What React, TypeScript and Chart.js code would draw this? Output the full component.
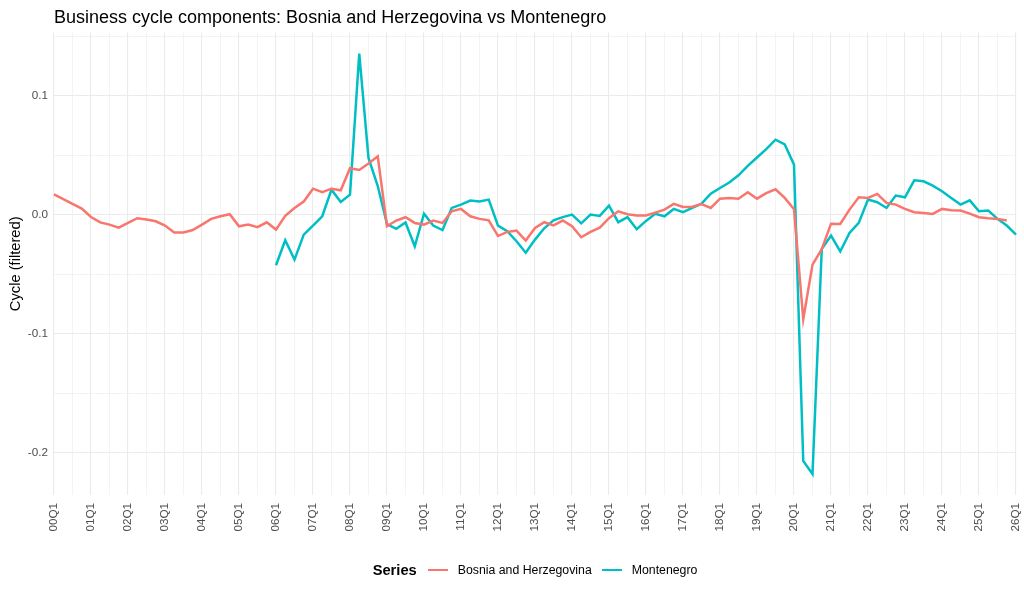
import React, { useEffect, useRef } from 'react';
import { Chart, registerables } from 'chart.js';

Chart.register(...registerables);

const FONT = '"Liberation Sans", Arial, Helvetica, sans-serif';

const TITLE = 'Business cycle components: Bosnia and Herzegovina vs Montenegro';
const Y_TITLE = 'Cycle (filtered)';
const LEGEND_TITLE = 'Series';

const YEARS = ['00', '01', '02', '03', '04', '05', '06', '07', '08', '09', '10', '11', '12', '13', '14', '15', '16', '17', '18', '19', '20', '21', '22', '23', '24', '25'];
const QUARTERS = ['Q1', 'Q2', 'Q3', 'Q4'];
const LAST_LABEL = '26Q1';

const categories: string[] = [];
YEARS.forEach((y) => QUARTERS.forEach((q) => categories.push(y + q)));
categories.push(LAST_LABEL);

const Y_TICKS = [-0.2, -0.15, -0.1, -0.05, 0, 0.05, 0.1, 0.15];
const Y_MIN = -0.2357;
const Y_MAX = 0.153;

const SERIES_NAMES = ['Bosnia and Herzegovina', 'Montenegro'];
const SERIES_COLORS = ['#F8766D', '#00BFC4'];

const bosnia: (number | null)[] = [
  0.017, 0.013, 0.009, 0.005, -0.002, -0.0065, -0.0084, -0.011, -0.007, -0.003,
  -0.0042, -0.0056, -0.0092, -0.015, -0.015, -0.013, -0.0084, -0.0036, -0.0014, 0.0003,
  -0.0098, -0.0084, -0.0106, -0.0065, -0.0126, -0.001, 0.0056, 0.011, 0.0218, 0.0188,
  0.0218, 0.0204, 0.039, 0.0375, 0.043, 0.049, -0.0098, -0.005, -0.0022, -0.007,
  -0.0084, -0.005, -0.007, 0.0028, 0.0048, -0.0014, -0.0036, -0.0048, -0.018, -0.0146,
  -0.0134, -0.0218, -0.0112, -0.0064, -0.009, -0.005, -0.0098, -0.019, -0.0145, -0.011,
  -0.003, 0.0028, 0.0003, -0.0008, -0.0008, 0.0017, 0.0042, 0.009, 0.0064, 0.0067,
  0.0088, 0.0056, 0.0134, 0.014, 0.0134, 0.0188, 0.0134, 0.018, 0.0213, 0.014,
  0.0045, -0.088, -0.042, -0.029, -0.0076, -0.0078, 0.0042, 0.0146, 0.014, 0.0174,
  0.0098, 0.0084, 0.0048, 0.002, 0.0014, 0.0006, 0.0048, 0.0036, 0.0034, 0.0008,
  -0.0022, -0.003, -0.0036, -0.005, null,
];

const montenegroStart = 24;
const montenegroValues: number[] = [
  -0.0426, -0.0216, -0.0378, -0.0168, -0.0092, -0.0014, 0.021, 0.0106, 0.0168, 0.1353,
  0.0476, 0.024, -0.008, -0.012, -0.0066, -0.0266, 0.0008, -0.0092, -0.013, 0.0056,
  0.0084, 0.0118, 0.011, 0.0126, -0.0092, -0.014, -0.0224, -0.032, -0.021, -0.0115,
  -0.0048, -0.0021, 0, -0.0073, 0, -0.0011, 0.0076, -0.0064, -0.0022, -0.0123,
  -0.0053, 0.0007, -0.0014, 0.0048, 0.002, 0.0056, 0.0092, 0.0176, 0.0224, 0.027,
  0.033, 0.041, 0.048, 0.055, 0.063, 0.059, 0.042, -0.207, -0.218, -0.029,
  -0.0176, -0.031, -0.0154, -0.007, 0.0126, 0.0104, 0.0056, 0.016, 0.0146, 0.0288,
  0.028, 0.0244, 0.0196, 0.014, 0.0084, 0.012, 0.0028, 0.0034, -0.0036, -0.0092,
  -0.0168,
];
const montenegro: (number | null)[] = categories.map((_, i) =>
  i < montenegroStart ? null : montenegroValues[i - montenegroStart] ?? null
);

const GRID = '#EBEBEB';
const TICK_COLOR = '#4D4D4D';

const isMajorY = (v: number) => Math.abs(v * 10 - Math.round(v * 10)) < 1e-6;

export default function App() {
  const canvasRef = useRef<HTMLCanvasElement | null>(null);

  useEffect(() => {
    if (!canvasRef.current) return;
    const chart = new Chart(canvasRef.current, {
      type: 'line',
      data: {
        labels: categories,
        datasets: [
          {
            label: SERIES_NAMES[0],
            data: bosnia,
            borderColor: SERIES_COLORS[0],
            backgroundColor: SERIES_COLORS[0],
            borderWidth: 2.5,
            pointRadius: 0,
            tension: 0,
            spanGaps: false,
          },
          {
            label: SERIES_NAMES[1],
            data: montenegro,
            borderColor: SERIES_COLORS[1],
            backgroundColor: SERIES_COLORS[1],
            borderWidth: 2.5,
            pointRadius: 0,
            tension: 0,
            spanGaps: false,
          },
        ],
      },
      options: {
        animation: false,
        responsive: true,
        maintainAspectRatio: false,
        layout: { padding: { left: 0, right: 8, top: 0, bottom: 0 } },
        plugins: {
          legend: { display: false },
          tooltip: { enabled: false },
          title: {
            display: true,
            text: TITLE,
            align: 'start',
            fullSize: false,
            color: '#000000',
            font: { size: 18, family: FONT, weight: 'normal' },
            padding: { top: 7, bottom: 4 },
          },
        },
        scales: {
          x: {
            type: 'category',
            offset: false,
            border: { display: false },
            grid: {
              drawTicks: false,
              color: (ctx: any) => (ctx.index % 2 === 0 ? GRID : 'rgba(0,0,0,0)'),
              lineWidth: (ctx: any) => (ctx.index % 4 === 0 ? 1.1 : 0.6),
            },
            ticks: {
              autoSkip: false,
              minRotation: 90,
              maxRotation: 90,
              padding: 8,
              color: TICK_COLOR,
              font: { size: 11.7, family: FONT },
              callback: (_v: any, i: number) => (i % 4 === 0 ? categories[i] : ''),
            },
            afterFit: (s: any) => {
              s.height = 102;
              s.paddingLeft = 0;
              s.paddingRight = 0;
            },
          },
          y: {
            type: 'linear',
            min: Y_MIN,
            max: Y_MAX,
            border: { display: false },
            afterBuildTicks: (s: any) => {
              s.ticks = Y_TICKS.map((v) => ({ value: v }));
            },
            grid: {
              drawTicks: false,
              color: GRID,
              lineWidth: (ctx: any) => (ctx.tick && isMajorY(ctx.tick.value) ? 1.1 : 0.6),
            },
            ticks: {
              padding: 6,
              color: TICK_COLOR,
              font: { size: 11.7, family: FONT },
              callback: (v: any) => (isMajorY(Number(v)) ? Number(v).toFixed(1) : ''),
            },
            title: {
              display: true,
              text: Y_TITLE,
              color: '#000000',
              font: { size: 14.7, family: FONT },
              padding: { top: 7, bottom: 0 },
            },
            afterFit: (s: any) => {
              s.width = 54;
              s.paddingTop = 0;
              s.paddingBottom = 0;
            },
          },
        },
      },
    });
    return () => chart.destroy();
  }, []);

  return (
    <div style={{ position: 'absolute', left: 0, top: 0, width: 1024, height: 597, background: '#ffffff', fontFamily: FONT }}>
      <canvas ref={canvasRef} />
      <div
        style={{
          position: 'absolute',
          left: 54,
          width: 962,
          top: 560,
          height: 20,
          display: 'flex',
          justifyContent: 'center',
          alignItems: 'center',
        }}
      >
        <span style={{ fontSize: 14.7, fontWeight: 'bold', color: '#000', marginRight: 11 }}>{LEGEND_TITLE}</span>
        {SERIES_NAMES.map((name, i) => (
          <React.Fragment key={name}>
            <span style={{ display: 'inline-block', width: 20, height: 2.5, background: SERIES_COLORS[i], marginRight: 10 }} />
            <span style={{ fontSize: 12.3, color: '#000', marginRight: i === 0 ? 10 : 0 }}>{name}</span>
          </React.Fragment>
        ))}
      </div>
    </div>
  );
}
